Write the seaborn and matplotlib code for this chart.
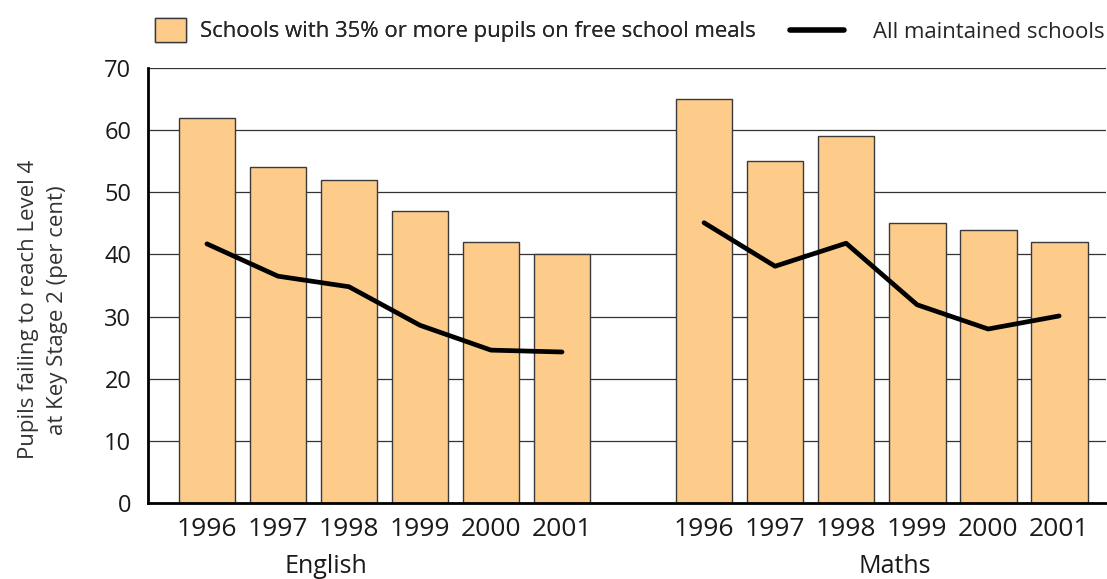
import numpy as np
import pandas as pd
import matplotlib
matplotlib.use("Agg")
import matplotlib.pyplot as plt
import seaborn as sns
from matplotlib.patches import Patch
from matplotlib.lines import Line2D

subjects = ["English", "Maths"]
years = ["1996", "1997", "1998", "1999", "2000", "2001"]
fsm_english = [62, 54, 52, 47, 42, 40]
fsm_maths = [65, 55, 59, 45, 44, 42]
all_english = [41.7, 36.5, 34.8, 28.6, 24.6, 24.3]
all_maths = [45.1, 38.1, 41.8, 31.9, 28.0, 30.1]

# one empty slot between the two subject groups
rows = []
for g, (subj, fsm, alls) in enumerate(zip(subjects, [fsm_english, fsm_maths],
                                           [all_english, all_maths])):
    for i, yr in enumerate(years):
        rows.append({"subject": subj, "year": yr, "pos": g * 7 + i,
                     "fsm": fsm[i], "all": alls[i]})
df = pd.DataFrame(rows)

sns.set_style("white")
plt.rcParams["font.family"] = ["Open Sans", "DejaVu Sans"]

W, H = 1107, 579
fig = plt.figure(figsize=(W / 100, H / 100), dpi=100)
ax = fig.add_axes([148 / W, 1 - 503 / H, 958 / W, 435 / H])

bar_color = "#FDCB8A"
edge = "#3a3a3a"
sns.barplot(data=df, x="pos", y="fsm", native_scale=True, width=0.8,
            color=bar_color, edgecolor=edge, linewidth=1.0,
            saturation=1, ax=ax, zorder=2)
sns.lineplot(data=df, x="pos", y="all", units="subject", estimator=None,
             color="black", linewidth=3.4, ax=ax, zorder=3)

ax.set_ylim(0, 70)
ax.set_yticks(range(0, 71, 10))
ax.set_xlim(-0.83, 12.66)
ax.set_xticks(df["pos"])
ax.set_xticklabels(df["year"])
ax.tick_params(axis="x", labelsize=19, length=0, pad=10, labelcolor="#1a1a1a")
ax.tick_params(axis="y", labelsize=17, length=0, pad=12, labelcolor="#1a1a1a")

ax.yaxis.grid(True, color="#333333", linewidth=0.9, zorder=0)
ax.set_axisbelow(True)
for s in ["top", "right"]:
    ax.spines[s].set_visible(False)
for s in ["left", "bottom"]:
    ax.spines[s].set_color("black")
    ax.spines[s].set_linewidth(2)

ax.set_xlabel("")
ax.set_ylabel("Pupils failing to reach Level 4\nat Key Stage 2 (per cent)",
              fontsize=16, color="#333333", linespacing=1.55)
ax.yaxis.set_label_coords(-0.083, 0.444)

# subject names under the year labels
ax.text(1.68, -11.26, "English", ha="center", va="baseline", fontsize=18,
        color="#1a1a1a", clip_on=False)
ax.text(9.69, -11.26, "Maths", ha="center", va="baseline", fontsize=18,
        color="#1a1a1a", clip_on=False)

leg1 = fig.legend(handles=[Patch(facecolor=bar_color, edgecolor=edge,
                                 label="Schools with 35% or more pupils on free school meals")],
                  loc="center left", bbox_to_anchor=(155 / W, 1 - 30 / H),
                  frameon=False, fontsize=15.9, handlelength=1.42,
                  handleheight=1.3, handletextpad=0.6, borderpad=0,
                  borderaxespad=0)
leg2 = fig.legend(handles=[Line2D([0], [0], color="black", linewidth=4,
                                  label="All maintained schools")],
                  loc="center left", bbox_to_anchor=(790 / W, 1 - 32 / H),
                  frameon=False, fontsize=15.9, handlelength=2.45,
                  handletextpad=1.3, borderpad=0, borderaxespad=0)
fig.add_artist(leg1)

fig.savefig("out.png", dpi=100)
